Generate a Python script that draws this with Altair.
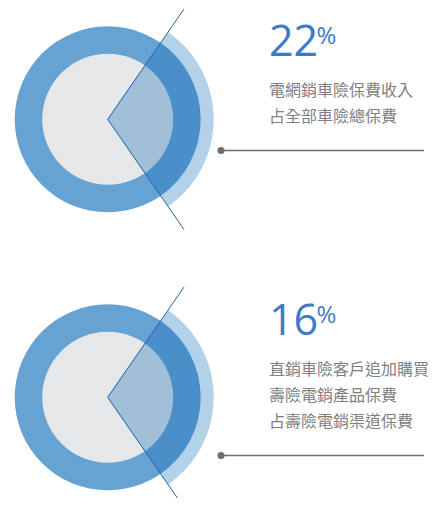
import math
import altair as alt
import pandas as pd

# ---- data ----
PCTS = [22, 16]
LABELS = [
    ["電網銷車險保費收入", "占全部車險總保費"],
    ["直銷車險客戶追加購買", "壽險電銷產品保費", "占壽險電銷渠道保費"],
]

# ---- layout / style constants ----
W, H = 426, 490
CX, CY0, CSTEP = 99.7, 111.3, 278
TSTEP = 279
R_IN, R_RING, R_OUT = 65.5, 93, 106
A1, A2 = math.radians(34.7), math.radians(145.3)
LINE_LEN = 134

df = pd.DataFrame({
    "i": list(range(len(PCTS))),
    "pct": [str(p) for p in PCTS],
    "label": ["\n".join(l) for l in LABELS],
    "n": [len(l) for l in LABELS],
})

base = alt.Chart(df).transform_calculate(
    cx=f"{CX}",
    cy=f"{CY0} + datum.i * {CSTEP}",
    ex1=f"{CX} + {LINE_LEN} * sin({A1})",
    ey1=f"{CY0} + datum.i * {CSTEP} - {LINE_LEN} * cos({A1})",
    ex2=f"{CX} + {LINE_LEN} * sin({A2})",
    ey2=f"{CY0} + datum.i * {CSTEP} - {LINE_LEN} * cos({A2})",
    nx="261",
    nb=f"48 + datum.i * {TSTEP}",
    px="308.5",
    pb=f"36 + datum.i * {TSTEP}",
    lx="261",
    lb=f"88 + datum.i * {TSTEP}",
    hx1="213",
    hx2="416",
    hy=f"88 + datum.i * {TSTEP} + (datum.n - 1) * 26 + 28.5",
    pct_sign="'%'",
)

XS = alt.Scale(domain=[0, W], nice=False, zero=False)
YS = alt.Scale(domain=[0, H], nice=False, zero=False, reverse=True)


def X(f):
    return alt.X(f"{f}:Q", scale=XS, axis=None)


def Y(f):
    return alt.Y(f"{f}:Q", scale=YS, axis=None)


TWO_PI = 2 * math.pi
center = dict(x=X("cx"), y=Y("cy"))

ring = base.mark_arc(theta=0, theta2=TWO_PI, radius=R_RING, color="#66a3d2").encode(**center)
disc = base.mark_arc(theta=0, theta2=TWO_PI, radius=R_IN, color="#e6e7e8").encode(**center)
w_out = base.mark_arc(theta=A1, theta2=A2, radius=R_OUT, color="#b4d1ea").encode(**center)
w_ring = base.mark_arc(theta=A1, theta2=A2, radius=R_RING, color="#4a8fc9").encode(**center)
w_in = base.mark_arc(theta=A1, theta2=A2, radius=R_IN, color="#a1bfd9").encode(**center)

line1 = base.mark_rule(color="#1f63ae", strokeWidth=1).encode(
    x=X("cx"), y=Y("cy"), x2="ex1:Q", y2="ey1:Q")
line2 = base.mark_rule(color="#1f63ae", strokeWidth=1).encode(
    x=X("cx"), y=Y("cy"), x2="ex2:Q", y2="ey2:Q")

num = base.mark_text(align="left", baseline="alphabetic", font="Open Sans",
                     fontSize=43, color="#3d7cc4").encode(
    x=X("nx"), y=Y("nb"), text="pct:N")
pct = base.mark_text(align="left", baseline="alphabetic", font="Open Sans",
                     fontSize=24, color="#3d7cc4").encode(
    x=X("px"), y=Y("pb"), text="pct_sign:N")
lab = base.mark_text(align="left", baseline="alphabetic", font="Noto Sans CJK TC",
                     fontSize=16, color="#808080", lineBreak="\n", lineHeight=26).encode(
    x=X("lx"), y=Y("lb"), text="label:N")

hline = base.mark_rule(color="#6d6e71", strokeWidth=1.5).encode(
    x=X("hx1"), x2="hx2:Q", y=Y("hy"))
dot = base.mark_circle(size=50, color="#6d6e71", opacity=1).encode(
    x=X("hx1"), y=Y("hy"))

chart = alt.layer(ring, disc, w_out, w_ring, w_in, line1, line2, num, pct, lab, hline, dot).properties(
    width=W, height=H, padding=0, autosize="none"
).configure_view(stroke=None)

chart.save("out.html", embed_options={"renderer": "svg", "actions": False})
